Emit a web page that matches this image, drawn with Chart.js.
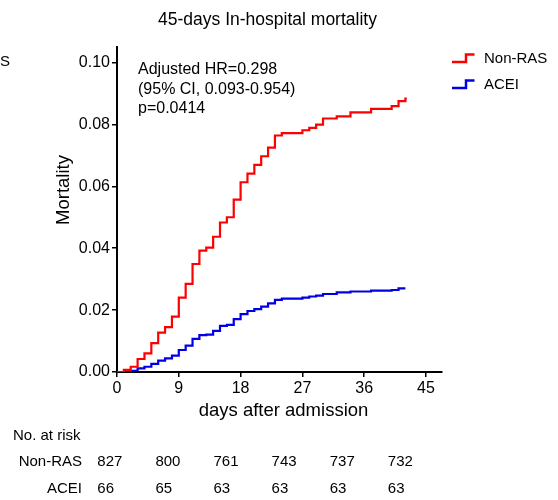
<!DOCTYPE html>
<html>
<head>
<meta charset="utf-8">
<script src="https://cdn.jsdelivr.net/npm/chart.js@4.4.1/dist/chart.umd.min.js"></script>
<style>
  html, body { margin: 0; padding: 0; background: #fff; }
  #c { display: block; }
</style>
</head>
<body>
<canvas id="c" width="558" height="500"></canvas>
<script>
// ---- data ----
const seriesNames = ['Non-RAS', 'ACEI'];
const nonRasDays = [0, 1, 2, 3, 4, 5, 6, 7, 8, 9, 10, 11, 12, 13, 14, 15, 16, 17, 18, 19, 20, 21, 22, 23, 24, 27, 28, 29, 30, 32, 34, 37, 40, 41, 42, 42.2];
const nonRasMort = [0, 0.0007, 0.0017, 0.0042, 0.0060, 0.0093, 0.0127, 0.0145, 0.0179, 0.0240, 0.0285, 0.0349, 0.0392, 0.0402, 0.0437, 0.0483, 0.0500, 0.0557, 0.0613, 0.0641, 0.0669, 0.0697, 0.0725, 0.0764, 0.0772, 0.0781, 0.0789, 0.0799, 0.0819, 0.0826, 0.0839, 0.0850, 0.0859, 0.0875, 0.0883, 0.0883];
const aceiDays = [0, 2, 3, 4, 5, 6, 7, 8, 9, 10, 11, 12, 13, 14, 15, 16, 17, 18, 19, 20, 21, 22, 23, 24, 27, 28, 29, 30, 32, 34, 37, 40, 41, 42];
const aceiMort = [0, 0.0004, 0.0012, 0.0017, 0.0026, 0.0037, 0.0044, 0.0053, 0.0071, 0.0085, 0.0107, 0.0119, 0.0121, 0.0133, 0.0149, 0.0152, 0.0171, 0.0187, 0.0197, 0.0203, 0.0211, 0.0222, 0.0233, 0.0237, 0.0240, 0.0244, 0.0247, 0.0252, 0.0257, 0.0260, 0.0263, 0.0265, 0.0270, 0.0270];
const xTicks = [0, 9, 18, 27, 36, 45];
const yTicks = [0, 0.02, 0.04, 0.06, 0.08, 0.10];
const riskNonRas = [827, 800, 761, 743, 737, 732];
const riskAcei = [66, 65, 63, 63, 63, 63];
const titleText = '45-days In-hospital mortality';
const annotationLines = ['Adjusted HR=0.298', '(95% CI, 0.093-0.954)', 'p=0.0414'];

const FONT = '"Liberation Sans", Arial, sans-serif';
const RED = '#ff0000';
const BLUE = '#0000e6';

function toPoints(xs, ys) { return xs.map((x, i) => ({ x: x, y: ys[i] })); }

const textPlugin = {
  id: 'textPlugin',
  afterDraw(chart) {
    const ctx = chart.ctx;
    ctx.save();
    ctx.fillStyle = '#000';
    ctx.textBaseline = 'middle';

    // title
    ctx.font = '17.5px ' + FONT;
    ctx.textAlign = 'center';
    ctx.fillText(titleText, 267.5, 20);

    // cut-off letter at left edge
    ctx.textAlign = 'left';
    ctx.font = '15px ' + FONT;
    ctx.fillText('S', 0, 62);

    // annotation
    ctx.font = '16px ' + FONT;
    annotationLines.forEach((t, i) => ctx.fillText(t, 138, 70 + i * 19.5));

    // axis titles
    ctx.font = '18.5px ' + FONT;
    ctx.textAlign = 'center';
    ctx.fillText('days after admission', 283.5, 411);
    ctx.save();
    ctx.translate(64, 190);
    ctx.rotate(-Math.PI / 2);
    ctx.fillText('Mortality', 0, 0);
    ctx.restore();

    // legend
    const ds = chart.data.datasets;
    const legY = [58.5, 84.5];
    ds.forEach((d, i) => {
      const y = legY[i];
      ctx.strokeStyle = d.borderColor;
      ctx.lineWidth = 2.5;
      ctx.beginPath();
      ctx.moveTo(452, y + 3.5);
      ctx.lineTo(466, y + 3.5);
      ctx.lineTo(466, y - 4);
      ctx.lineTo(474.5, y - 4);
      ctx.stroke();
      ctx.fillStyle = '#000';
      ctx.font = '15px ' + FONT;
      ctx.textAlign = 'left';
      ctx.fillText(d.label, 484, y);
    });

    // number at risk table
    ctx.fillStyle = '#000';
    ctx.font = '15px ' + FONT;
    ctx.textAlign = 'left';
    ctx.fillText('No. at risk', 13, 436);
    ctx.textAlign = 'right';
    ctx.fillText(seriesNames[0], 82, 462);
    ctx.fillText(seriesNames[1], 82, 488.5);
    ctx.textAlign = 'left';
    riskNonRas.forEach((v, i) => ctx.fillText(String(v), 97.3 + i * 58.1, 462));
    riskAcei.forEach((v, i) => ctx.fillText(String(v), 97.3 + i * 58.1, 488.5));
    ctx.restore();
  }
};

new Chart(document.getElementById('c'), {
  type: 'line',
  data: {
    datasets: [
      { label: seriesNames[0], data: toPoints(nonRasDays, nonRasMort), borderColor: RED, borderWidth: 2.2, stepped: true, pointRadius: 0, fill: false },
      { label: seriesNames[1], data: toPoints(aceiDays, aceiMort), borderColor: BLUE, borderWidth: 2.2, stepped: true, pointRadius: 0, fill: false }
    ]
  },
  options: {
    responsive: false,
    animation: false,
    events: [],
    layout: { padding: { left: 0, top: 47, right: 116, bottom: 0 } },
    plugins: { legend: { display: false }, title: { display: false }, tooltip: { enabled: false } },
    scales: {
      x: {
        type: 'linear',
        min: 0,
        max: 47.33,
        afterBuildTicks: s => { s.ticks = xTicks.map(v => ({ value: v })); },
        afterFit: s => { s.height = 128; },
        grid: { display: true, drawOnChartArea: false, drawTicks: true, tickLength: 5, color: '#000', lineWidth: 1.5 },
        border: { display: true, color: '#000', width: 2 },
        ticks: { color: '#000', font: { family: FONT, size: 16 }, padding: 2, maxRotation: 0, autoSkip: false }
      },
      y: {
        type: 'linear',
        min: 0,
        max: 0.105,
        afterBuildTicks: s => { s.ticks = yTicks.map(v => ({ value: v })); },
        afterFit: s => { s.width = 117; },
        grid: { display: true, drawOnChartArea: false, drawTicks: true, tickLength: 5, color: '#000', lineWidth: 1.5 },
        border: { display: true, color: '#000', width: 2 },
        ticks: { color: '#000', font: { family: FONT, size: 16 }, padding: 2, autoSkip: false, callback: v => v.toFixed(2) }
      }
    }
  },
  plugins: [textPlugin]
});
</script>
</body>
</html>
